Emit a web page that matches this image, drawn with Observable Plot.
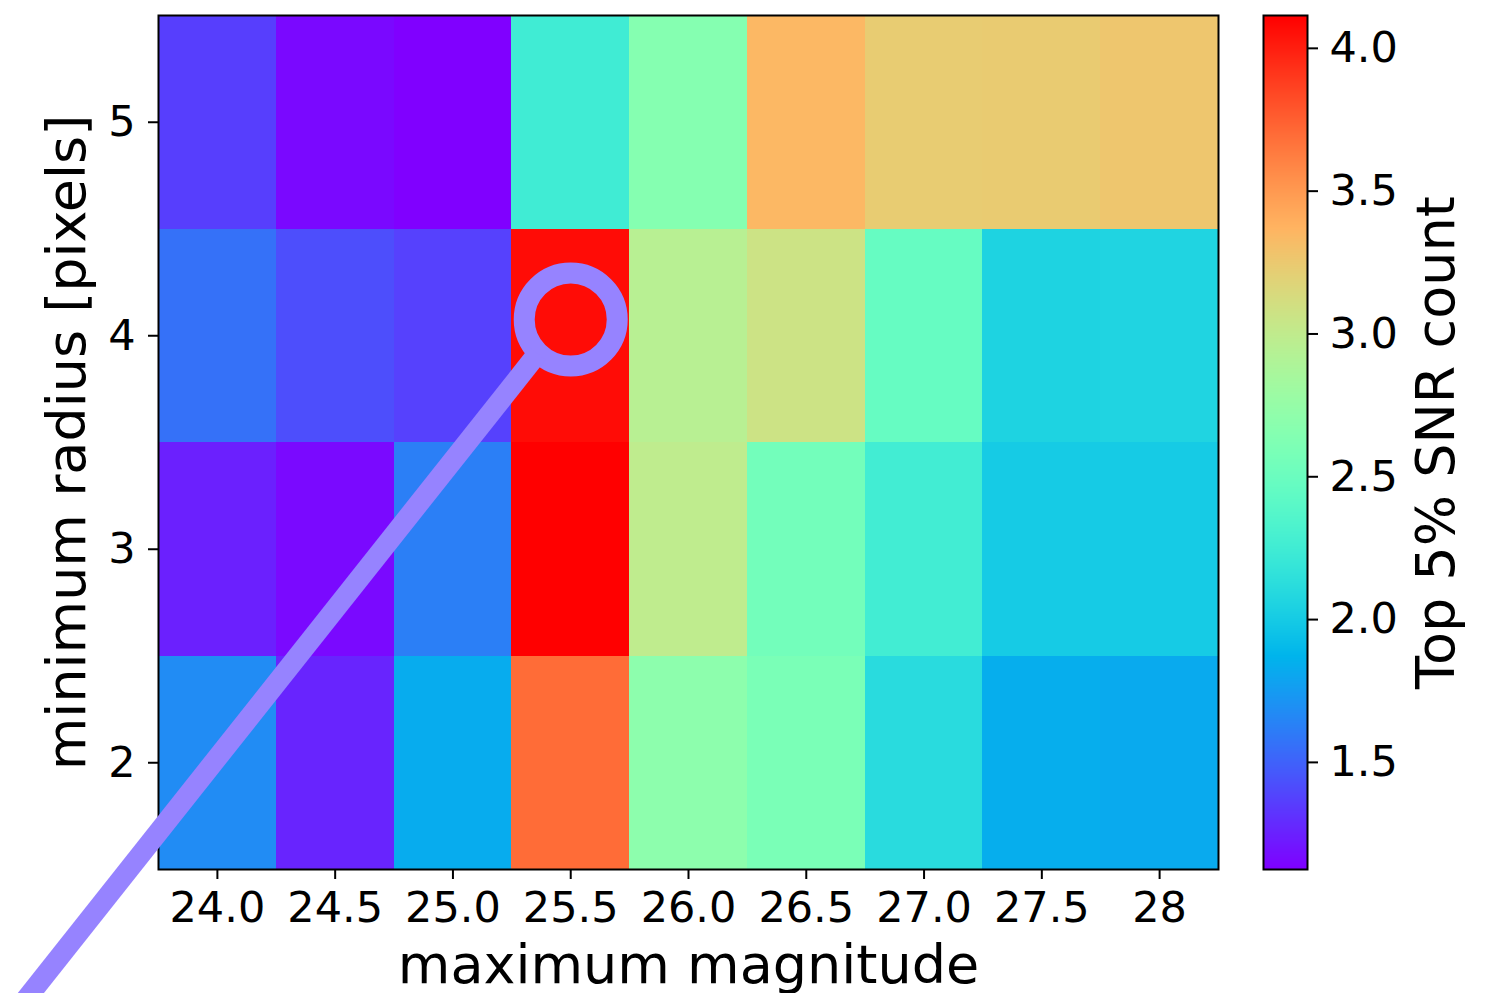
<!DOCTYPE html>
<html>
<head>
<meta charset="utf-8">
<script src="https://cdn.jsdelivr.net/npm/d3@7"></script>
<script src="https://cdn.jsdelivr.net/npm/@observablehq/plot@0.6"></script>
<style>
  html, body { margin: 0; padding: 0; background: white; }
  #wrap { position: relative; width: 1497px; height: 993px; overflow: hidden; background: white; }
  #wrap svg { position: absolute; left: 0; top: 0; background: transparent; }
</style>
</head>
<body>
<div id="wrap"></div>
<script>
// ---- data ----
const magnitudes = [24.0, 24.5, 25.0, 25.5, 26.0, 26.5, 27.0, 27.5, 28.0];
const magTickLabels = ["24.0", "24.5", "25.0", "25.5", "26.0", "26.5", "27.0", "27.5", "28"];
const radii = [2, 3, 4, 5];
const snrRadius2 = [1.68, 1.26, 1.83, 3.70, 2.70, 2.59, 2.11, 1.84, 1.82];
const snrRadius3 = [1.245, 1.16, 1.62, 4.115, 2.99, 2.545, 2.26, 2.00, 2.00];
const snrRadius4 = [1.56, 1.42, 1.37, 4.07, 2.95, 3.07, 2.47, 2.05, 2.06];
const snrRadius5 = [1.36, 1.155, 1.125, 2.246, 2.65, 3.35, 3.23, 3.24, 3.27];
const colorbarTicks = [1.5, 2.0, 2.5, 3.0, 3.5, 4.0];
// magnifier annotation (data coordinates)
const ringCenter = [{mag: 25.5, radius: 4.076}];
const handle = [{mag1: 25.359, radius1: 3.916, mag2: 23.164, radius2: 0.860}];

const rows = [snrRadius2, snrRadius3, snrRadius4, snrRadius5];
const cells = [];
rows.forEach((vals, ri) => vals.forEach((v, ci) => cells.push({mag: magnitudes[ci], radius: radii[ri], snr: v})));
const extent = d3.extent(cells, d => d.snr);

// matplotlib "rainbow" colormap
const rainbow = t => {
  const r = Math.min(1, Math.abs(2 * t - 0.5));
  const g = Math.max(0, Math.sin(Math.PI * t));
  const b = Math.max(0, Math.cos(Math.PI * t / 2));
  return `rgb(${Math.round(r * 255)},${Math.round(g * 255)},${Math.round(b * 255)})`;
};
const colorScale = {type: "linear", domain: extent, interpolate: rainbow};

const W = 1497, H = 993;
const font = {fontFamily: "DejaVu Sans", fontSize: "43px", color: "black", background: "transparent"};

const main = Plot.plot({
  width: W, height: H,
  marginLeft: 158, marginRight: 279, marginTop: 15, marginBottom: 124,
  style: font,
  x: {domain: [23.75, 28.25]},
  y: {domain: [1.5, 5.5]},
  color: colorScale,
  marks: [
    Plot.rect(cells, {
      x1: d => d.mag - 0.25, x2: d => d.mag + 0.25,
      y1: d => d.radius - 0.5, y2: d => d.radius + 0.5,
      fill: "snr", shapeRendering: "crispEdges"
    }),
    Plot.frame({stroke: "black", strokeWidth: 2}),
    Plot.axisX({ticks: magnitudes, tickFormat: d => magTickLabels[magnitudes.indexOf(d)],
      tickSize: 10, tickPadding: 12, fontSize: 43, label: null, strokeWidth: 2}),
    Plot.axisY({ticks: radii, tickFormat: d => String(d), tickSize: 10, tickPadding: 13,
      fontSize: 43, label: null, strokeWidth: 2}),
    Plot.dot(ringCenter, {x: "mag", y: "radius", r: 46.5, stroke: "#9683ff", strokeWidth: 21, fill: "none"}),
    Plot.link(handle, {x1: "mag1", y1: "radius1", x2: "mag2", y2: "radius2", stroke: "#9683ff", strokeWidth: 20.5}),
    Plot.text(["maximum magnitude"], {frameAnchor: "bottom", textAnchor: "middle", dy: 113, fontSize: 54}),
    Plot.text(["minimum radius [pixels]"], {frameAnchor: "left", textAnchor: "middle", rotate: -90, dx: -91, fontSize: 54})
  ]
});

const bar = Plot.plot({
  width: W, height: H,
  marginLeft: 1263, marginRight: W - 1307, marginTop: 15, marginBottom: 124,
  style: font,
  x: {domain: [0, 1], axis: null},
  y: {domain: extent},
  color: colorScale,
  marks: [
    Plot.raster({x1: 0, x2: 1, y1: extent[0], y2: extent[1], fill: (x, y) => y}),
    Plot.frame({stroke: "black", strokeWidth: 2}),
    Plot.axisY({anchor: "right", ticks: colorbarTicks, tickFormat: d3.format(".1f"),
      tickSize: 10, tickPadding: 12, fontSize: 43, label: null, strokeWidth: 2}),
    Plot.text(["Top 5% SNR count"], {frameAnchor: "right", textAnchor: "middle", rotate: -90, dx: 129, fontSize: 54})
  ]
});

const wrap = document.getElementById("wrap");
wrap.appendChild(main);
wrap.appendChild(bar);
</script>
</body>
</html>
